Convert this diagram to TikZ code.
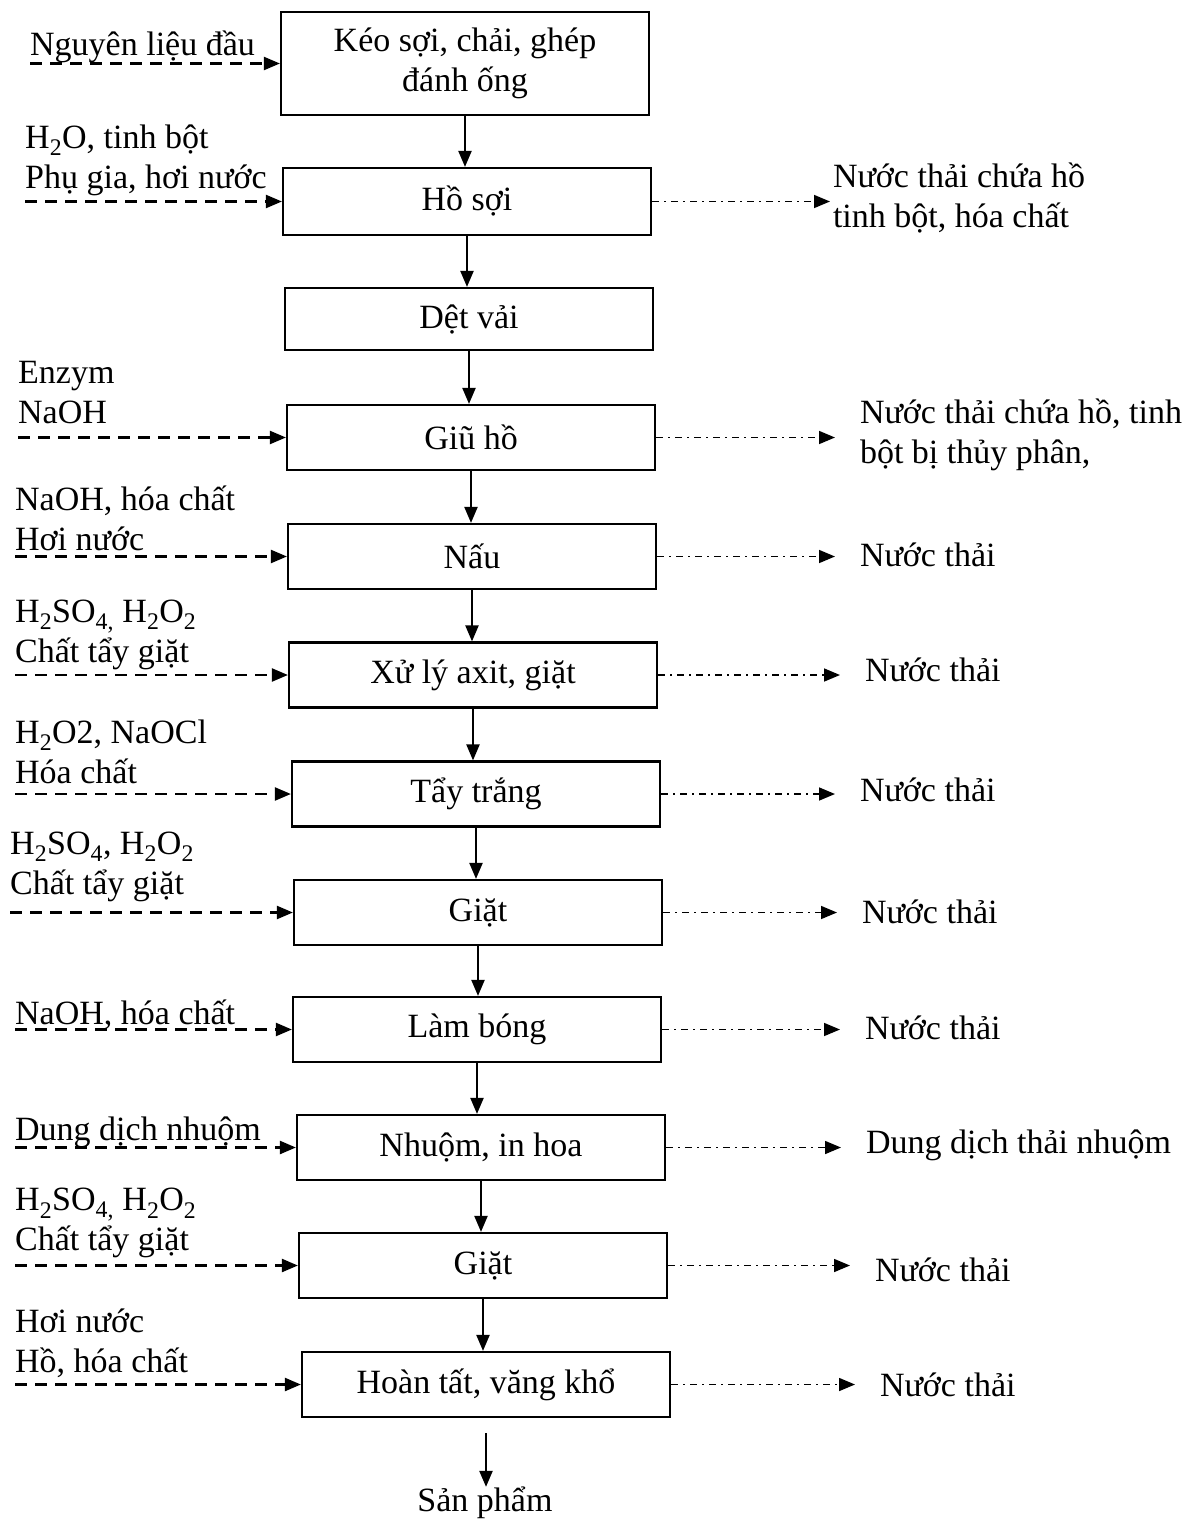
\documentclass[tikz,border=0pt]{standalone}
\usepackage{fontspec}
\setmainfont{Liberation Serif}
\usetikzlibrary{arrows.meta}

\begin{document}
\begin{tikzpicture}[x=1pt,y=-1pt,
  every node/.style={font=\fontsize{34}{40}\selectfont},
  proc/.style={draw,line width=2.2pt,minimum width=368pt,minimum height=65pt,align=center,inner sep=0pt},
  flow/.style={line width=2.2pt,-{Triangle[length=16pt,width=13pt]}},
  inflow/.style={flow,dash pattern=on 12pt off 8pt},
  outflow/.style={flow,line width=1.6pt,dash pattern=on 7pt off 5pt on 2pt off 5pt},
  inlbl/.style={align=left,inner sep=0pt,anchor=south west,execute at end node=\strut},
  outlbl/.style={align=left,inner sep=0pt,anchor=west,outer xsep=25pt}]
\useasboundingbox (0,0) rectangle (1195,1520);

\node[proc,minimum height=103pt] (keo) at (465,63.5) {Kéo sợi, chải, ghép\\đánh ống};
\node[proc,minimum height=67pt] (ho) at (467,201.5) {Hồ sợi};
\node[proc,minimum height=62pt] (det) at (469,319) {Dệt vải};
\node[proc] (giuho) at (471,437.5) {Giũ hồ};
\node[proc] (nau) at (472,556.5) {Nấu};
\node[proc] (axit) at (473,675) {Xử lý axit, giặt};
\node[proc] (tay) at (476,794) {Tẩy trắng};
\node[proc] (giat) at (478,912.5) {Giặt};
\node[proc] (bong) at (477,1029.5) {Làm bóng};
\node[proc] (nhuom) at (481,1147.5) {Nhuộm, in hoa};
\node[proc] (giatb) at (483,1265.5) {Giặt};
\node[proc] (hoantat) at (486,1384.5) {Hoàn tất, văng khổ};
\node[inner sep=0pt] (sp) at (485,1503) {Sản phẩm};

\draw[flow] (keo.south) -- (keo.south |- ho.north);
\draw[flow] (ho.south) -- (ho.south |- det.north);
\draw[flow] (det.south) -- (det.south |- giuho.north);
\draw[flow] (giuho.south) -- (giuho.south |- nau.north);
\draw[flow] (nau.south) -- (nau.south |- axit.north);
\draw[flow] (axit.south) -- (axit.south |- tay.north);
\draw[flow] (tay.south) -- (tay.south |- giat.north);
\draw[flow] (giat.south) -- (giat.south |- bong.north);
\draw[flow] (bong.south) -- (bong.south |- nhuom.north);
\draw[flow] (nhuom.south) -- (nhuom.south |- giatb.north);
\draw[flow] (giatb.south) -- (giatb.south |- hoantat.north);
\draw[flow] ([yshift=-15pt]hoantat.south) -- (hoantat.south |- sp.north);

\node[inlbl] (i1) at (30,68) {Nguyên liệu đầu};
\node[inlbl] (i2) at (25,201) {H\textsubscript{2}O, tinh bột\\Phụ gia, hơi nước};
\node[inlbl] (i4) at (18,436) {Enzym\\NaOH};
\node[inlbl] (i5) at (15,563) {NaOH, hóa chất\\Hơi nước};
\node[inlbl] (i6) at (15,675) {H\textsubscript{2}SO\textsubscript{4,} H\textsubscript{2}O\textsubscript{2}\\Chất tẩy giặt};
\node[inlbl] (i7) at (15,796) {H\textsubscript{2}O2, NaOCl\\Hóa chất};
\node[inlbl] (i8) at (10,907) {H\textsubscript{2}SO\textsubscript{4}, H\textsubscript{2}O\textsubscript{2}\\Chất tẩy giặt};
\node[inlbl] (i9) at (15,1037) {NaOH, hóa chất};
\node[inlbl] (i10) at (15,1153) {Dung dịch nhuộm};
\node[inlbl] (i11) at (15,1263) {H\textsubscript{2}SO\textsubscript{4,} H\textsubscript{2}O\textsubscript{2}\\Chất tẩy giặt};
\node[inlbl] (i12) at (15,1385) {Hơi nước\\Hồ, hóa chất};

\coordinate (s1) at (keo.west -| i1.west);
\coordinate (s2) at (ho.west -| i2.west);
\coordinate (s4) at (giuho.west -| i4.west);
\coordinate (s5) at (nau.west -| i5.west);
\coordinate (s6) at (axit.west -| i6.west);
\coordinate (s7) at (tay.west -| i7.west);
\coordinate (s8) at (giat.west -| i8.west);
\coordinate (s9) at (bong.west -| i9.west);
\coordinate (s10) at (nhuom.west -| i10.west);
\coordinate (s11) at (giatb.west -| i11.west);
\coordinate (s12) at (hoantat.west -| i12.west);

\draw[inflow] (s1) -- (keo.west);
\draw[inflow] (s2) -- (ho.west);
\draw[inflow] (s4) -- (giuho.west);
\draw[inflow] (s5) -- (nau.west);
\draw[inflow] (s6) -- (axit.west);
\draw[inflow] (s7) -- (tay.west);
\draw[inflow] (s8) -- (giat.west);
\draw[inflow] (s9) -- (bong.west);
\draw[inflow] (s10) -- (nhuom.west);
\draw[inflow] (s11) -- (giatb.west);
\draw[inflow] (s12) -- (hoantat.west);

\node[outlbl,outer xsep=3pt] (o2) at (830,198) {Nước thải chứa hồ\\tinh bột, hóa chất};
\node[outlbl] (o4) at (835,435) {Nước thải chứa hồ, tinh\\bột bị thủy phân,};
\node[outlbl] (o5) at (835,555) {Nước thải};
\node[outlbl] (o6) at (840,670) {Nước thải};
\node[outlbl] (o7) at (835,790) {Nước thải};
\node[outlbl] (o8) at (837,912) {Nước thải};
\node[outlbl] (o9) at (840,1028) {Nước thải};
\node[outlbl] (o10) at (841,1145) {Dung dịch thải nhuộm};
\node[outlbl] (o11) at (850,1270) {Nước thải};
\node[outlbl] (o12) at (855,1385) {Nước thải};

\draw[outflow] (ho.east) -- (ho.east -| o2.west);
\draw[outflow] (giuho.east) -- (giuho.east -| o4.west);
\draw[outflow] (nau.east) -- (nau.east -| o5.west);
\draw[outflow] (axit.east) -- (axit.east -| o6.west);
\draw[outflow] (tay.east) -- (tay.east -| o7.west);
\draw[outflow] (giat.east) -- (giat.east -| o8.west);
\draw[outflow] (bong.east) -- (bong.east -| o9.west);
\draw[outflow] (nhuom.east) -- (nhuom.east -| o10.west);
\draw[outflow] (giatb.east) -- (giatb.east -| o11.west);
\draw[outflow] (hoantat.east) -- (hoantat.east -| o12.west);
\end{tikzpicture}
\end{document}
